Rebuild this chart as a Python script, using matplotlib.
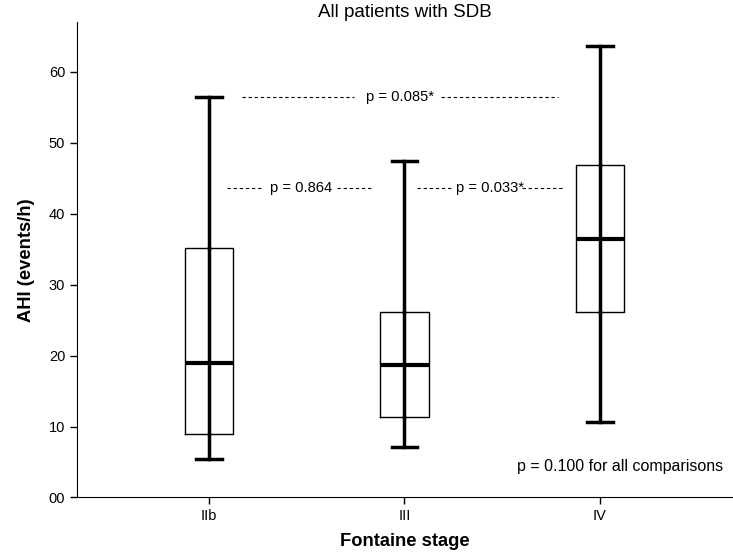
import matplotlib
matplotlib.use('Agg')
import matplotlib.pyplot as plt

plt.rcParams['font.family'] = ['Liberation Sans', 'DejaVu Sans']

stages = ['IIb', 'III', 'IV']
whisker_low = [5.4, 7.1, 10.6]
q1 = [9.0, 11.4, 26.1]
median = [18.9, 18.7, 36.5]
q3 = [35.2, 26.1, 46.9]
whisker_high = [56.4, 47.5, 63.6]

# pairwise comparisons
comp_labels = ['p = 0.864', 'p = 0.033*', 'p = 0.085*']
comp_y = [43.6, 43.6, 56.4]
comp_text_x = [0.47, 1.436, 0.975]
comp_left = [(0.094, 0.268), (1.066, 1.245), (0.171, 0.743)]
comp_right = [(0.656, 0.83), (1.602, 1.817), (1.188, 1.783)]

stats = []
for i in range(len(stages)):
    stats.append({'whislo': whisker_low[i], 'q1': q1[i], 'med': median[i],
                  'q3': q3[i], 'whishi': whisker_high[i], 'fliers': [], 'label': stages[i]})

fig, ax = plt.subplots(figsize=(7.33, 5.54), dpi=100)
fig.subplots_adjust(left=0.105, right=1.0, bottom=0.102, top=0.96)

pos = list(range(len(stages)))
ax.bxp(stats, positions=pos, widths=0.25, showfliers=False,
       boxprops=dict(color='black', linewidth=1.0),
       whiskerprops=dict(color='black', linewidth=2.5),
       capprops=dict(color='black', linewidth=2.5),
       medianprops=dict(color='black', linewidth=3.0),
       capwidths=0.13)

# whisker line runs through the box in the reference
for i in pos:
    ax.plot([i, i], [q1[i], q3[i]], color='black', linewidth=2.5, zorder=1)

dash = (0, (3, 2.5))
for i in range(len(comp_labels)):
    ax.plot(comp_left[i], [comp_y[i]] * 2, color='black', linestyle=dash, linewidth=0.8)
    ax.plot(comp_right[i], [comp_y[i]] * 2, color='black', linestyle=dash, linewidth=0.8)
    ax.text(comp_text_x[i], comp_y[i], comp_labels[i], ha='center', va='center', fontsize=10.6)

ax.text(2.63, 4.4, 'p = 0.100 for all comparisons', ha='right', va='center', fontsize=11.5)

ax.set_xlim(-0.675, 2.68)
ax.set_ylim(0, 67)
ax.set_yticks([0, 10, 20, 30, 40, 50, 60])
ax.set_yticklabels(['00', '10', '20', '30', '40', '50', '60'])
ax.set_xticks(pos)
ax.set_xticklabels(stages)
ax.tick_params(labelsize=10.5, length=5, width=1)
ax.spines['top'].set_visible(False)
ax.spines['right'].set_visible(False)
ax.set_xlabel('Fontaine stage', fontsize=13.2, fontweight='bold', labelpad=7)
ax.set_ylabel('AHI (events/h)', fontsize=13.2, fontweight='bold', labelpad=10)
ax.set_title('All patients with SDB', fontsize=13.5, pad=4)

fig.savefig('out.png', dpi=100)
